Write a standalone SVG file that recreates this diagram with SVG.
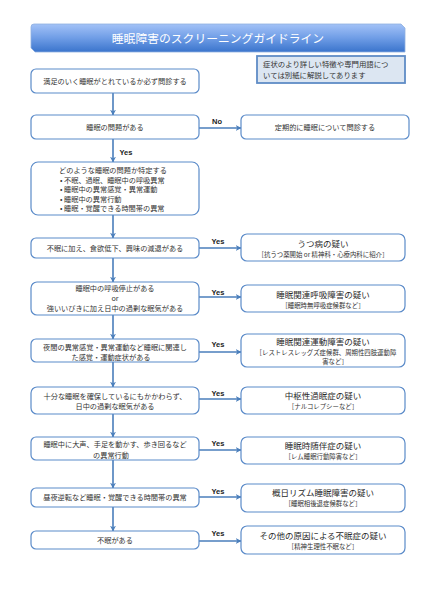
<svg xmlns="http://www.w3.org/2000/svg" width="433" height="600" viewBox="0 0 433 600">
<defs>
<linearGradient id="bg" x1="0" y1="0" x2="0" y2="1">
<stop offset="0" stop-color="#a3c2f7"/>
<stop offset="0.5" stop-color="#6f9de6"/>
<stop offset="1" stop-color="#3a74cc"/>
</linearGradient>
<marker id="ah" viewBox="0 0 10 10" refX="9" refY="5" markerWidth="6" markerHeight="6" markerUnits="userSpaceOnUse" orient="auto">
<path d="M0,0 L10,5 L0,10 L3,5 Z" fill="#4a7ebb"/>
</marker>
<style>
.box{fill:#fff;stroke:#5b8bc9;stroke-width:1.2}
.t{font-family:"Noto Sans CJK JP","Liberation Sans",sans-serif;font-size:7.2px;fill:#333;text-anchor:middle}
.tl{text-anchor:start}
.h{font-size:8.5px;fill:#2a2a2a;font-weight:normal}
.s{font-size:6.4px}
.lbl{font-family:"Liberation Sans",Arial,sans-serif;font-size:7.5px;font-weight:bold;fill:#222;text-anchor:middle}
.c{stroke:#4a7ebb;stroke-width:1.6;fill:none;marker-end:url(#ah)}
</style>
</defs>
<rect width="433" height="600" fill="#fff"/>
<g id="title">
<path d="M31,27 Q31,24 34,24 L401,24 L405,28 L405,52 L35,52 L31,48 Z" fill="url(#bg)" stroke="#8fb0e0" stroke-width="0.8"/>
<text x="218" y="42.5" font-family="'Noto Sans CJK JP',sans-serif" font-size="11.8" fill="#fff" text-anchor="middle">睡眠障害のスクリーニングガイドライン</text>
</g>
<g id="note">
<rect x="257" y="56" width="148" height="27" fill="#dce6f2" stroke="#5f8cc6" stroke-width="1.8"/>
<text class="t" x="263" y="67" style="text-anchor:start;font-size:7.4px">症状のより詳しい特徴や専門用語につ</text>
<text class="t" x="263" y="78" style="text-anchor:start;font-size:7.4px">いては別紙に解説してあります</text>
</g>
<g id="connectors">
<line class="c" x1="113" y1="93" x2="113" y2="115"/>
<line class="c" x1="113" y1="139" x2="113" y2="162"/>
<line class="c" x1="113" y1="215" x2="113" y2="238"/>
<line class="c" x1="113" y1="258" x2="113" y2="282"/>
<line class="c" x1="113" y1="315" x2="113" y2="339"/>
<line class="c" x1="113" y1="362" x2="113" y2="387"/>
<line class="c" x1="113" y1="414" x2="113" y2="437"/>
<line class="c" x1="113" y1="460" x2="113" y2="488"/>
<line class="c" x1="113" y1="507" x2="113" y2="531"/>
<line class="c" x1="199" y1="128" x2="241" y2="128"/>
<line class="c" x1="199" y1="248" x2="241" y2="248"/>
<line class="c" x1="199" y1="297" x2="241" y2="297"/>
<line class="c" x1="199" y1="352" x2="241" y2="352"/>
<line class="c" x1="199" y1="399" x2="241" y2="399"/>
<line class="c" x1="199" y1="450" x2="241" y2="450"/>
<line class="c" x1="199" y1="497" x2="241" y2="497"/>
<line class="c" x1="199" y1="541" x2="241" y2="541"/>
<text class="lbl" x="217" y="123.5">No</text>
<text class="lbl" x="126" y="154.5">Yes</text>
<text class="lbl" x="218" y="243.5">Yes</text>
<text class="lbl" x="218" y="294.5">Yes</text>
<text class="lbl" x="218" y="346.5">Yes</text>
<text class="lbl" x="218" y="395.5">Yes</text>
<text class="lbl" x="218" y="445.5">Yes</text>
<text class="lbl" x="218" y="493.5">Yes</text>
<text class="lbl" x="218" y="535.5">Yes</text>
</g>
<g id="n1">
<rect class="box" x="31" y="69" width="168" height="24" rx="5"/>
<text class="t" x="115" y="83.6">満足のいく睡眠がとれているか必ず問診する</text>
</g>
<g id="n2">
<rect class="box" x="31" y="115" width="168" height="24" rx="5"/>
<text class="t" x="115" y="129.6">睡眠の問題がある</text>
</g>
<g id="n3">
<rect class="box" x="241" y="115" width="168" height="24" rx="5"/>
<text class="t" x="325" y="129.6">定期的に睡眠について問診する</text>
</g>
<g id="n4">
<rect class="box" x="31" y="162" width="168" height="53" rx="7"/>
<text class="t" x="59" y="173.3" style="text-anchor:start">どのような睡眠の問題か特定する</text>
<text class="t" x="60" y="182.7" style="text-anchor:start">• 不眠、過眠、睡眠中の呼吸異常</text>
<text class="t" x="60" y="192.1" style="text-anchor:start">• 睡眠中の異常感覚・異常運動</text>
<text class="t" x="60" y="201.5" style="text-anchor:start">• 睡眠中の異常行動</text>
<text class="t" x="60" y="210.9" style="text-anchor:start">• 睡眠・覚醒できる時間帯の異常</text>
</g>
<g id="n5">
<rect class="box" x="31" y="238" width="168" height="20" rx="5"/>
<text class="t" x="115" y="250.6">不眠に加え、食欲低下、興味の減退がある</text>
</g>
<g id="n6">
<rect class="box" x="241" y="234" width="164" height="27" rx="6"/>
<text class="t h" x="323" y="246.6">うつ病の疑い</text>
<text class="t s" x="323" y="256.6">［抗うつ薬開始 or 精神科・心療内科に紹介］</text>
</g>
<g id="n7">
<rect class="box" x="31" y="282" width="168" height="33" rx="6"/>
<text class="t" x="115" y="290.5">睡眠中の呼吸停止がある</text>
<text class="t" x="115" y="301">or</text>
<text class="t" x="115" y="311">強いいびきに加え日中の過剰な眠気がある</text>
</g>
<g id="n8">
<rect class="box" x="241" y="285" width="164" height="27" rx="6"/>
<text class="t h" x="323" y="298.4">睡眠関連呼吸障害の疑い</text>
<text class="t s" x="323" y="308">［睡眠時無呼吸症候群など］</text>
</g>
<g id="n9">
<rect class="box" x="31" y="339" width="168" height="23" rx="5"/>
<text class="t" x="115" y="350.2">夜間の異常感覚・異常運動など睡眠に関連し</text>
<text class="t" x="111" y="359.8">た感覚・運動症状がある</text>
</g>
<g id="n10">
<rect class="box" x="241" y="334" width="164" height="33" rx="6"/>
<text class="t h" x="323" y="345.4">睡眠関連運動障害の疑い</text>
<text class="t s" x="326" y="355">［レストレスレッグズ症候群、周期性四肢運動障</text>
<text class="t s" x="335" y="364">害など］</text>
</g>
<g id="n11">
<rect class="box" x="31" y="387" width="168" height="27" rx="6"/>
<text class="t" x="115" y="399.2">十分な睡眠を確保しているにもかかわらず、</text>
<text class="t" x="115" y="408.8">日中の過剰な眠気がある</text>
</g>
<g id="n12">
<rect class="box" x="241" y="387" width="164" height="27" rx="6"/>
<text class="t h" x="323" y="399.4">中枢性過眠症の疑い</text>
<text class="t s" x="323" y="409">［ナルコレプシーなど］</text>
</g>
<g id="n13">
<rect class="box" x="31" y="437" width="168" height="23" rx="5"/>
<text class="t" x="115" y="447.4">睡眠中に大声、手足を動かす、歩き回るなど</text>
<text class="t" x="111" y="458">の異常行動</text>
</g>
<g id="n14">
<rect class="box" x="241" y="437" width="164" height="27" rx="6"/>
<text class="t h" x="323" y="448.6">睡眠時随伴症の疑い</text>
<text class="t s" x="323" y="458.6">［レム睡眠行動障害など］</text>
</g>
<g id="n15">
<rect class="box" x="31" y="488" width="168" height="19" rx="5"/>
<text class="t" x="115" y="500.2">昼夜逆転など睡眠・覚醒できる時間帯の異常</text>
</g>
<g id="n16">
<rect class="box" x="241" y="484" width="164" height="28" rx="6"/>
<text class="t h" x="323" y="495.6">概日リズム睡眠障害の疑い</text>
<text class="t s" x="323" y="506.4">［睡眠相後退症候群など］</text>
</g>
<g id="n17">
<rect class="box" x="31" y="531" width="168" height="18" rx="5"/>
<text class="t" x="115" y="542.6">不眠がある</text>
</g>
<g id="n18">
<rect class="box" x="241" y="526" width="164" height="28" rx="6"/>
<text class="t h" x="323" y="538.6">その他の原因による不眠症の疑い</text>
<text class="t s" x="323" y="548.6">［精神生理性不眠など］</text>
</g>
</svg>
